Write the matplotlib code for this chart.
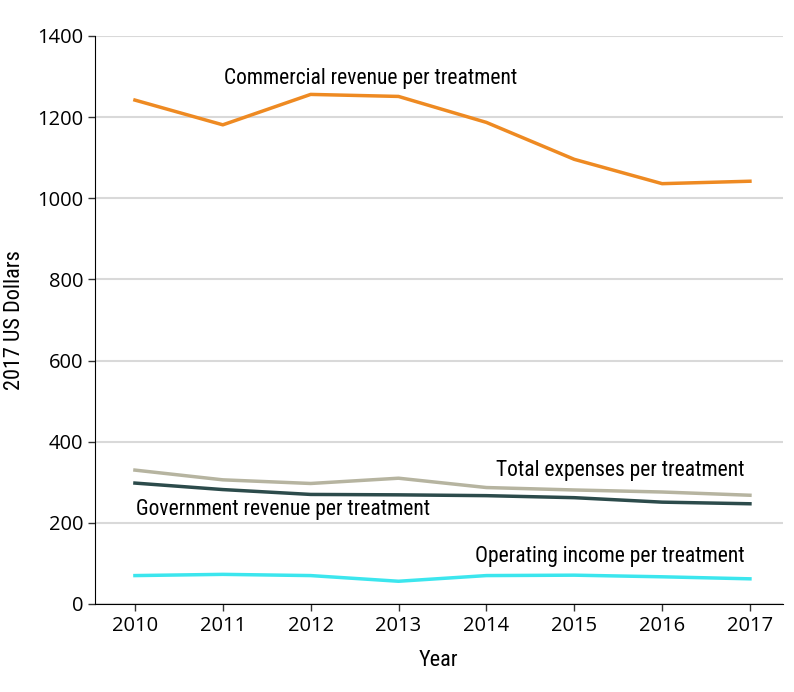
import matplotlib
matplotlib.use('Agg')
import matplotlib.pyplot as plt
from matplotlib import font_manager

# datos
years = [2010, 2011, 2012, 2013, 2014, 2015, 2016, 2017]
commercial = [1242, 1181, 1256, 1251, 1187, 1096, 1036, 1042]
total_expenses = [330, 306, 297, 310, 287, 281, 276, 268]
government = [298, 282, 270, 269, 267, 262, 251, 247]
operating = [70, 73, 70, 56, 70, 71, 67, 62]

# fuente condensada si existe
names = [f.name for f in font_manager.fontManager.ttflist]
cond = {'family': 'DejaVu Sans', 'stretch': 'condensed'}
for cand in ['Roboto Condensed', 'Liberation Sans Narrow', 'Open Sans Condensed']:
    if cand in names:
        cond = {'family': cand}
        break
tick_font = {'family': 'Open Sans', 'size': 14.5}

fig = plt.figure(figsize=(7.94, 6.92), dpi=100)
ax = fig.add_axes([0.1196, 0.1272, 0.8664, 0.8208])

ax.plot(years, commercial, color='#EE8A22', lw=2.5)
ax.plot(years, total_expenses, color='#B6B4A0', lw=2.5)
ax.plot(years, government, color='#2C4B4B', lw=2.5)
ax.plot(years, operating, color='#3CE6EE', lw=2.5)

ax.text(2011.01, 1296, 'Commercial revenue per treatment', fontsize=15.5, va='center', ha='left', **cond)
ax.text(2016.94, 328, 'Total expenses per treatment', fontsize=15.5, va='center', ha='right', **cond)
ax.text(2010.01, 234, 'Government revenue per treatment', fontsize=15.5, va='center', ha='left', **cond)
ax.text(2016.94, 118, 'Operating income per treatment', fontsize=15.5, va='center', ha='right', **cond)

ax.set_xlim(2009.545, 2017.375)
ax.set_ylim(0, 1400)
ax.set_yticks(range(0, 1401, 200))
ax.set_xticks(years)
ax.set_xticklabels([str(y) for y in years])
for lab in ax.get_xticklabels() + ax.get_yticklabels():
    lab.set_fontfamily(tick_font['family'])
    lab.set_fontsize(tick_font['size'])
ax.yaxis.grid(True, color='#D9D9D9', lw=1.5)
ax.set_axisbelow(True)
for s in ['top', 'right']:
    ax.spines[s].set_visible(False)
ax.tick_params(axis='both', direction='out', length=5, width=1, colors='#333333', labelcolor='black')
ax.set_xlabel('Year', fontsize=16, labelpad=10, **cond)
ax.set_ylabel('2017 US Dollars', fontsize=16, labelpad=9, **cond)

fig.savefig('out.png', dpi=100)
